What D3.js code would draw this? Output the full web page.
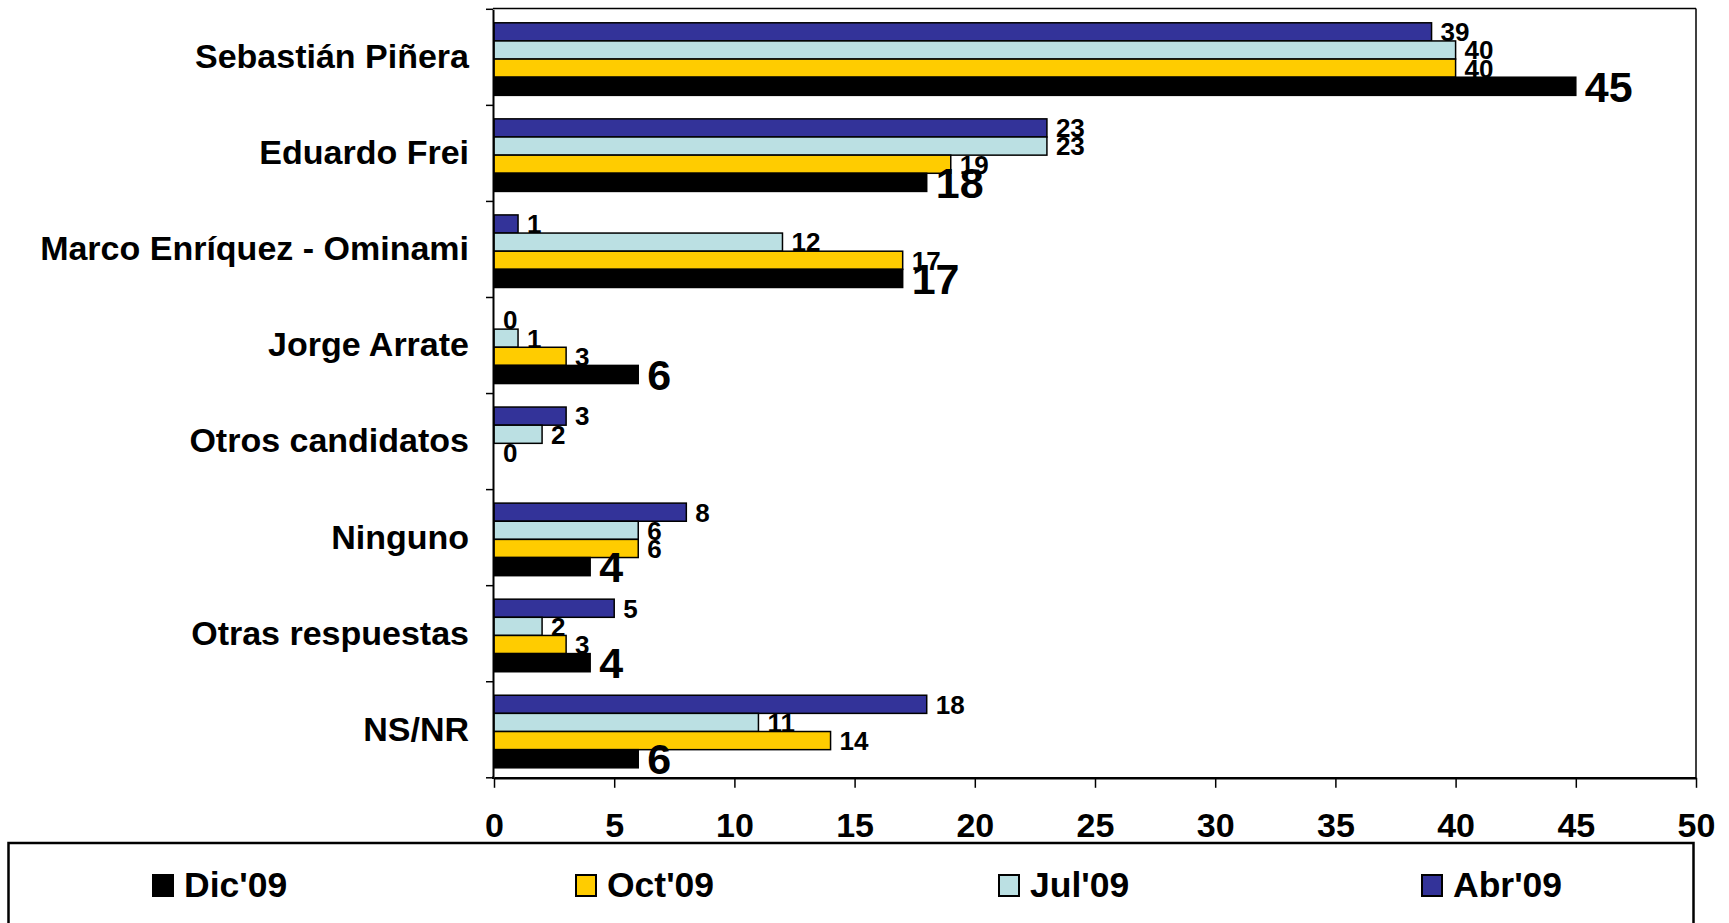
<!DOCTYPE html>
<html>
<head>
<meta charset="utf-8">
<script src="https://cdn.jsdelivr.net/npm/d3@7"></script>
<style>
  html, body { margin: 0; padding: 0; background: #fff; }
  svg { display: block; }
  text { font-family: "Liberation Sans", Arial, Helvetica, sans-serif; font-weight: bold; fill: #000; }
</style>
</head>
<body>
<svg id="chart" width="1729" height="923"></svg>
<script>
// ---- Data ----
const categories = ["Sebastián Piñera", "Eduardo Frei", "Marco Enríquez - Ominami", "Jorge Arrate",
                    "Otros candidatos", "Ninguno", "Otras respuestas", "NS/NR"];
const seriesNames = ["Abr'09", "Jul'09", "Oct'09", "Dic'09"];   // top-to-bottom inside each group
const abr09 = [39, 23, 1, 0, 3, 8, 5, 18];
const jul09 = [40, 23, 12, 1, 2, 6, 2, 11];
const oct09 = [40, 19, 17, 3, 0, 6, 3, 14];
const dic09 = [45, 18, 17, 6, null, 4, 4, 6];
const xTickValues = [0, 5, 10, 15, 20, 25, 30, 35, 40, 45, 50];
const legendOrder = ["Dic'09", "Oct'09", "Jul'09", "Abr'09"];

const seriesValues = { "Abr'09": abr09, "Jul'09": jul09, "Oct'09": oct09, "Dic'09": dic09 };
const colors = { "Abr'09": "#333399", "Jul'09": "#BBE0E3", "Oct'09": "#FFCC00", "Dic'09": "#000000" };

// ---- Layout ----
const svg = d3.select("#chart");
const plot = { left: 493, right: 1696, top: 9.3, bottom: 777.8 };

const x = d3.scaleLinear().domain([0, 50]).range([494, plot.right]);
const y = d3.scaleBand().domain(categories).range([plot.top, plot.bottom]).padding(0);
const yInner = d3.scaleBand().domain(seriesNames).range([13.5, y.bandwidth() - 10]).padding(0);

// frame (top & right)
svg.append("line").attr("x1", plot.left).attr("x2", plot.right).attr("y1", 8.5).attr("y2", 8.5)
  .attr("stroke", "#000").attr("stroke-width", 1.5);
svg.append("line").attr("x1", plot.right).attr("x2", plot.right).attr("y1", 8.5).attr("y2", plot.bottom)
  .attr("stroke", "#000").attr("stroke-width", 1.5);

// bars
const rows = [];
categories.forEach((c, i) => {
  seriesNames.forEach(s => {
    rows.push({ cat: c, series: s, value: seriesValues[s][i] });
  });
});

const g = svg.append("g");
g.selectAll("rect.bar")
  .data(rows.filter(d => d.value !== null))
  .join("rect")
  .attr("class", "bar")
  .attr("x", x(0))
  .attr("y", d => y(d.cat) + yInner(d.series))
  .attr("width", d => x(d.value) - x(0))
  .attr("height", yInner.bandwidth())
  .attr("fill", d => colors[d.series])
  .attr("stroke", "#000")
  .attr("stroke-width", d => d.value === 0 ? 0 : 1.5);

// value labels
g.selectAll("text.val")
  .data(rows.filter(d => d.value !== null))
  .join("text")
  .attr("class", "val")
  .attr("x", d => x(d.value) + 9)
  .attr("y", d => y(d.cat) + yInner(d.series) + yInner.bandwidth() / 2)
  .attr("dy", "0.36em")
  .style("font-size", d => d.series === "Dic'09" ? "43px" : "26px")
  .text(d => d.value);

// left axis (labels) + boundary ticks
const yAxis = d3.axisLeft(y).tickSize(0).tickPadding(24);
const yg = svg.append("g").attr("transform", `translate(${plot.left},0)`).call(yAxis);
yg.select(".domain").attr("stroke", "#000").attr("stroke-width", 2);
yg.selectAll(".tick text").style("font-size", "34px").attr("dy", "0.32em");

const boundaries = categories.map(c => y(c)).concat([plot.bottom]);
svg.append("g").selectAll("line")
  .data(boundaries)
  .join("line")
  .attr("x1", plot.left - 7).attr("x2", plot.left)
  .attr("y1", d => d).attr("y2", d => d)
  .attr("stroke", "#000").attr("stroke-width", 1.5);

// bottom axis
const xAxis = d3.axisBottom(x).tickValues(xTickValues).tickSize(10).tickSizeOuter(0).tickPadding(25)
  .tickFormat(d3.format("d"));
const xg = svg.append("g").attr("transform", `translate(0,${plot.bottom})`).call(xAxis);
xg.select(".domain").attr("stroke", "#000").attr("stroke-width", 2.5);
xg.selectAll(".tick line").attr("stroke", "#000").attr("stroke-width", 1.5);
xg.selectAll(".tick text").style("font-size", "34px");
svg.append("line").attr("x1", plot.left - 1).attr("x2", x(0)).attr("y1", plot.bottom).attr("y2", plot.bottom)
  .attr("stroke", "#000").attr("stroke-width", 2.5);

// legend
svg.append("rect").attr("x", 8.5).attr("y", 843).attr("width", 1685).attr("height", 120)
  .attr("fill", "none").attr("stroke", "#000").attr("stroke-width", 2.5);
const legendX = d3.scalePoint().domain(legendOrder).range([152, 1421]);
const lg = svg.append("g").selectAll("g").data(legendOrder).join("g")
  .attr("transform", d => `translate(${legendX(d)},874)`);
lg.append("rect").attr("x", 1).attr("y", 1).attr("width", 20).attr("height", 21)
  .attr("fill", d => colors[d]).attr("stroke", "#000").attr("stroke-width", 2);
lg.append("text").attr("x", 32).attr("y", 23).style("font-size", "35.5px").text(d => d);
</script>
</body>
</html>
